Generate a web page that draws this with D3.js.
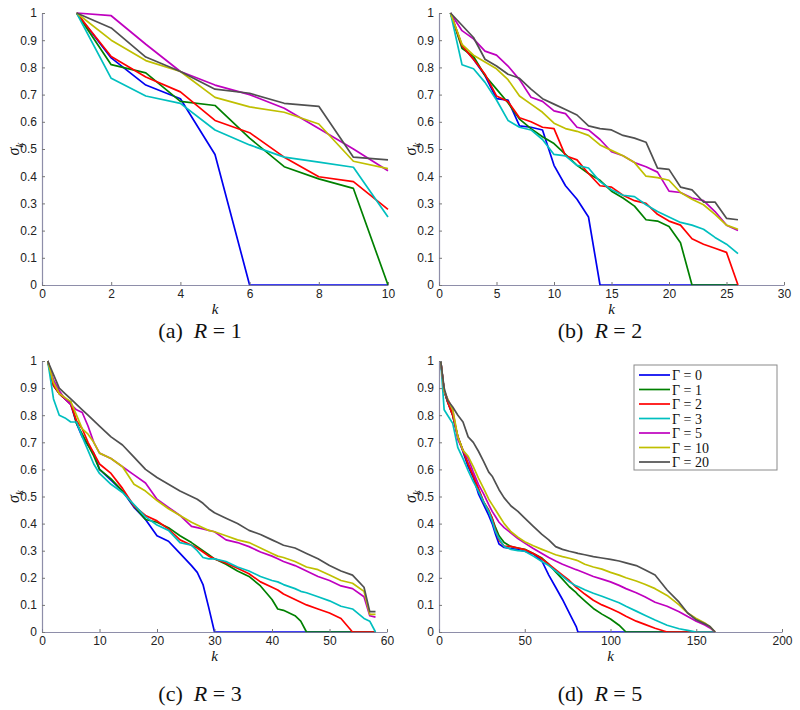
<!DOCTYPE html>
<html><head><meta charset="utf-8">
<script src="https://cdn.jsdelivr.net/npm/d3@7/dist/d3.min.js"></script>
<style>body{margin:0;background:#fff}svg{display:block}</style>
</head><body>
<svg id="c" width="800" height="710"></svg>
<script>
// ---------- data ----------
const seriesNames = ["Γ = 0","Γ = 1","Γ = 2","Γ = 3","Γ = 5","Γ = 10","Γ = 20"];
const seriesColors = ["#0000f0","#008000","#ff0000","#00bfbf","#bf00bf","#bfbf00","#505050"];
const yTicks = [0,0.1,0.2,0.3,0.4,0.5,0.6,0.7,0.8,0.9,1];
const yTickLabels = ["0","0.1","0.2","0.3","0.4","0.5","0.6","0.7","0.8","0.9","1"];
const captions = ["(a)","(b)","(c)","(d)"];
const captionR = ["1","2","3","5"];

// panel (a) R = 1
const kA = [1,2,3,4,5,6,7,8,9,10];
const xTicksA = [0,2,4,6,8,10];
const A_g0  = [1,0.835,0.735,0.685,0.48,0,0,0,0,0];
const A_g1  = [1,0.81,0.78,0.675,0.66,0.54,0.435,0.39,0.355,0];
const A_g2  = [1,0.84,0.765,0.71,0.605,0.56,0.47,0.398,0.38,0.278];
const A_g3  = [1,0.76,0.695,0.668,0.57,0.515,0.47,0.452,0.433,0.25];
const A_g5  = [1,0.99,0.885,0.785,0.735,0.70,0.65,0.575,0.50,0.42];
const A_g10 = [1,0.90,0.825,0.785,0.69,0.655,0.635,0.592,0.455,0.428];
const A_g20 = [1,0.945,0.838,0.785,0.72,0.705,0.668,0.657,0.47,0.46];

// panel (b) R = 2
const kB = [1,2,3,4,5,6,7,8,9,10,11,12,13,14,15,16,17,18,19,20,21,22,23,24,25,26];
const xTicksB = [0,5,10,15,20,25,30];
const B_g0  = [1,0.88,0.83,0.77,0.685,0.68,0.585,0.58,0.57,0.44,0.365,0.315,0.25,0,0,0,0,0,0,0,0,0,0,0,0,0];
const B_g1  = [1,0.87,0.84,0.77,0.72,0.67,0.61,0.575,0.545,0.52,0.48,0.44,0.41,0.385,0.345,0.32,0.29,0.24,0.235,0.215,0.155,0,0,0,0,0];
const B_g2  = [1,0.88,0.83,0.775,0.695,0.675,0.615,0.60,0.58,0.575,0.475,0.46,0.41,0.365,0.36,0.33,0.31,0.30,0.26,0.235,0.22,0.17,0.15,0.135,0.12,0];
const B_g3  = [1,0.81,0.795,0.745,0.68,0.605,0.58,0.57,0.535,0.48,0.475,0.44,0.43,0.38,0.35,0.33,0.325,0.295,0.27,0.25,0.23,0.22,0.205,0.175,0.15,0.115];
const B_g5  = [1,0.935,0.905,0.86,0.845,0.805,0.755,0.69,0.675,0.64,0.63,0.58,0.57,0.535,0.49,0.475,0.45,0.435,0.415,0.345,0.34,0.32,0.31,0.27,0.22,0.20];
const B_g10 = [1,0.885,0.845,0.82,0.795,0.755,0.695,0.665,0.635,0.595,0.575,0.565,0.55,0.515,0.495,0.475,0.45,0.40,0.395,0.385,0.34,0.315,0.295,0.26,0.22,0.205];
const B_g20 = [1,0.955,0.91,0.83,0.805,0.775,0.76,0.72,0.685,0.665,0.645,0.625,0.585,0.575,0.57,0.55,0.54,0.525,0.43,0.425,0.36,0.35,0.305,0.305,0.245,0.24];

// panel (c) R = 3
const kC = [1,2,3,4,5,6,7,8,9,10,12,14,16,18,20,22,24,26,27,28,29,30,32,34,36,38,40,41,42,44,45,46,48,50,52,54,56,57,58];
const xTicksC = [0,10,20,30,40,50,60];
const C_g0  = [1,0.91,0.88,0.86,0.84,0.77,0.72,0.69,0.66,0.60,0.56,0.52,0.46,0.415,0.355,0.335,0.29,0.245,0.22,0.175,0.09,0,0,0,0,0,0,0,0,0,0,0,0,0,0,0,0,0,0];
const C_g1  = [1,0.91,0.88,0.86,0.85,0.77,0.73,0.69,0.65,0.60,0.565,0.52,0.465,0.415,0.405,0.385,0.355,0.33,0.315,0.30,0.285,0.27,0.25,0.225,0.205,0.17,0.12,0.085,0.08,0.06,0.04,0,0,0,0,0,0,0,0];
const C_g2  = [1,0.91,0.88,0.86,0.84,0.78,0.75,0.70,0.66,0.62,0.585,0.53,0.465,0.43,0.41,0.38,0.34,0.32,0.31,0.295,0.28,0.27,0.255,0.235,0.215,0.185,0.165,0.155,0.14,0.12,0.11,0.1,0.085,0.07,0.05,0,0,0,0];
const C_g3  = [1,0.86,0.80,0.79,0.775,0.775,0.72,0.67,0.62,0.585,0.545,0.515,0.47,0.425,0.395,0.375,0.33,0.32,0.30,0.275,0.27,0.27,0.26,0.24,0.225,0.205,0.19,0.185,0.175,0.16,0.15,0.145,0.13,0.115,0.095,0.085,0.05,0.04,0];
const C_g5  = [1,0.93,0.89,0.86,0.84,0.82,0.81,0.76,0.70,0.66,0.64,0.61,0.58,0.55,0.49,0.46,0.43,0.39,0.385,0.38,0.375,0.37,0.34,0.33,0.315,0.295,0.28,0.27,0.26,0.245,0.235,0.225,0.205,0.19,0.17,0.16,0.13,0.06,0.055];
const C_g10 = [1,0.92,0.88,0.865,0.85,0.80,0.75,0.73,0.70,0.66,0.64,0.61,0.545,0.52,0.485,0.455,0.43,0.405,0.395,0.385,0.375,0.37,0.355,0.34,0.33,0.31,0.29,0.28,0.275,0.26,0.25,0.24,0.23,0.21,0.19,0.18,0.15,0.065,0.065];
const C_g20 = [1,0.95,0.90,0.88,0.86,0.84,0.82,0.80,0.78,0.76,0.72,0.69,0.645,0.60,0.57,0.545,0.52,0.50,0.49,0.475,0.455,0.44,0.42,0.40,0.375,0.36,0.34,0.33,0.32,0.31,0.30,0.29,0.27,0.245,0.225,0.21,0.165,0.075,0.075];

// panel (d) R = 5
const kD = [1,3,5,8,11,14,17,20,23,26,29,31,33,35,38,42,46,50,55,60,64,68,72,76,80,81,85,90,95,100,105,109,115,120,126,133,140,145,150,155,158,161];
const xTicksD = [0,50,100,150,200];
const D_g0  = [1,0.89,0.85,0.80,0.72,0.665,0.61,0.57,0.51,0.47,0.43,0.40,0.36,0.325,0.312,0.308,0.304,0.298,0.288,0.262,0.21,0.165,0.12,0.07,0.02,0,0,0,0,0,0,0,0,0,0,0,0,0,0,0,0,0];
const D_g1  = [1,0.89,0.85,0.80,0.72,0.67,0.62,0.575,0.525,0.48,0.445,0.42,0.385,0.355,0.33,0.315,0.31,0.305,0.29,0.273,0.25,0.222,0.195,0.167,0.145,0.138,0.115,0.087,0.066,0.048,0.025,0,0,0,0,0,0,0,0,0,0,0];
const D_g2  = [1,0.89,0.85,0.80,0.72,0.67,0.62,0.575,0.53,0.48,0.45,0.42,0.375,0.34,0.316,0.316,0.31,0.304,0.29,0.27,0.25,0.23,0.21,0.19,0.165,0.16,0.14,0.117,0.1,0.087,0.072,0.058,0.04,0.028,0.014,0,0,0,0,0,0,0];
const D_g3  = [1,0.82,0.80,0.77,0.68,0.64,0.595,0.555,0.52,0.48,0.445,0.41,0.37,0.345,0.315,0.305,0.30,0.298,0.28,0.26,0.245,0.225,0.205,0.185,0.17,0.168,0.156,0.143,0.132,0.12,0.108,0.095,0.077,0.062,0.044,0.025,0.012,0.006,0,0,0,0];
const D_g5  = [1,0.89,0.86,0.82,0.71,0.67,0.64,0.59,0.545,0.51,0.47,0.445,0.425,0.405,0.385,0.365,0.345,0.328,0.308,0.29,0.275,0.262,0.25,0.24,0.23,0.228,0.218,0.205,0.195,0.185,0.172,0.16,0.145,0.13,0.11,0.095,0.075,0.057,0.04,0.026,0.015,0];
const D_g10 = [1,0.89,0.86,0.82,0.72,0.67,0.648,0.61,0.568,0.53,0.49,0.47,0.45,0.43,0.40,0.37,0.35,0.333,0.318,0.305,0.295,0.285,0.278,0.272,0.265,0.263,0.25,0.24,0.232,0.22,0.21,0.20,0.188,0.176,0.16,0.135,0.10,0.07,0.05,0.033,0.02,0];
const D_g20 = [1,0.90,0.855,0.83,0.80,0.775,0.72,0.70,0.667,0.63,0.59,0.575,0.55,0.525,0.495,0.465,0.445,0.42,0.39,0.36,0.34,0.315,0.305,0.298,0.292,0.29,0.285,0.278,0.273,0.268,0.262,0.255,0.245,0.23,0.21,0.155,0.11,0.07,0.045,0.03,0.02,0];

// ---------- panels ----------
const panels = [
  {k:kA, xt:xTicksA, xmax:10,  s:[A_g0,A_g1,A_g2,A_g3,A_g5,A_g10,A_g20], x0:42,  x1:388, y0:13,  y1:285},
  {k:kB, xt:xTicksB, xmax:30,  s:[B_g0,B_g1,B_g2,B_g3,B_g5,B_g10,B_g20], x0:439, x1:784, y0:13,  y1:285},
  {k:kC, xt:xTicksC, xmax:60,  s:[C_g0,C_g1,C_g2,C_g3,C_g5,C_g10,C_g20], x0:42,  x1:387, y0:361, y1:632},
  {k:kD, xt:xTicksD, xmax:200, s:[D_g0,D_g1,D_g2,D_g3,D_g5,D_g10,D_g20], x0:439, x1:782, y0:361, y1:632}
];

const svg = d3.select("#c");
svg.append("rect").attr("width",800).attr("height",710).attr("fill","#fff");

panels.forEach((p,pi)=>{
  const x = d3.scaleLinear().domain([0,p.xmax]).range([p.x0,p.x1]);
  const y = d3.scaleLinear().domain([0,1]).range([p.y1,p.y0]);
  const g = svg.append("g");

  const line = d3.line().x((d,i)=>x(p.k[i])).y(d=>y(d));
  p.s.forEach((vals,si)=>{
    g.append("path").datum(vals).attr("d",line)
      .attr("fill","none").attr("stroke",seriesColors[si])
      .attr("stroke-width",1.7).attr("stroke-linejoin","round");
  });

  const xa = g.append("g").attr("transform",`translate(0,${p.y1})`)
    .call(d3.axisBottom(x).tickValues(p.xt).tickSizeInner(-3).tickSizeOuter(0).tickPadding(4).tickFormat(d3.format("d")));
  const ya = g.append("g").attr("transform",`translate(${p.x0},0)`)
    .call(d3.axisLeft(y).tickValues(yTicks).tickSizeInner(-3).tickSizeOuter(0).tickPadding(5)
      .tickFormat((d,i)=>yTickLabels[i]));
  [xa,ya].forEach(a=>{
    a.select(".domain").attr("stroke","#7a7a9a").attr("stroke-width",1.2).attr("opacity",0.85);
    a.selectAll(".tick line").attr("stroke","#777");
    a.selectAll(".tick text").attr("fill","#222").style("font-family","'Liberation Sans',Arial,sans-serif").style("font-size","12px");
  });

  // axis labels
  const cx = (p.x0+p.x1)/2, cy=(p.y0+p.y1)/2;
  g.append("text").attr("x",cx).attr("y",p.y1+29).attr("text-anchor","middle")
    .style("font-family","'Liberation Serif','DejaVu Serif',serif").style("font-style","italic").style("font-size","15px")
    .attr("fill","#111").text("k");
  const yl = g.append("text").attr("transform",`translate(${p.x0-28},${cy}) rotate(-90)`).attr("text-anchor","middle")
    .attr("dy","0.3em")
    .style("font-family","'Liberation Serif','DejaVu Serif',serif").style("font-style","italic").style("font-size","16px").attr("fill","#111");
  yl.append("tspan").text("σ");
  yl.append("tspan").attr("dy",4).style("font-size","11px").text("k");

  // caption
  const capX = pi%2===0 ? 200 : 600;
  const capY = pi<2 ? 338 : 701;
  const cap = svg.append("text").attr("x",capX).attr("y",capY).attr("text-anchor","middle")
    .style("font-family","'Liberation Serif','DejaVu Serif',serif").style("font-size","22px").attr("fill","#111");
  cap.append("tspan").text(captions[pi]+"\u2002");
  cap.append("tspan").style("font-style","italic").text("R");
  cap.append("tspan").text(" = "+captionR[pi]);

  // legend in panel d
  if(pi===3){
    const lx=634, ly=365, lw=143, lh=105;
    const lg = svg.append("g");
    lg.append("rect").attr("x",lx).attr("y",ly).attr("width",lw).attr("height",lh)
      .attr("fill","#fff").attr("stroke","#8a8a8a").attr("stroke-width",1);
    seriesNames.forEach((n,i)=>{
      const yy = ly+10+i*14.5;
      lg.append("line").attr("x1",lx+5).attr("x2",lx+36).attr("y1",yy).attr("y2",yy)
        .attr("stroke",seriesColors[i]).attr("stroke-width",1.7);
      lg.append("text").attr("x",lx+38).attr("y",yy+5)
        .style("font-family","'Liberation Serif','DejaVu Serif',serif").style("font-size","14px").attr("fill","#111").text(n);
    });
  }
});
</script>
</body></html>
